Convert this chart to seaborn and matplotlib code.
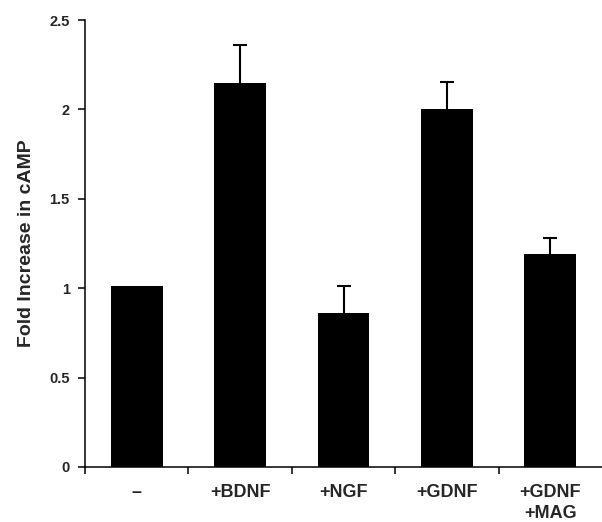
import numpy as np
import matplotlib
matplotlib.use("Agg")
import matplotlib.pyplot as plt
from matplotlib.ticker import FixedLocator, FuncFormatter
import seaborn as sns

# values
conditions = ["\u2013", "+BDNF", "+NGF", "+GDNF", "+GDNF\n+MAG"]
fold_increase = [1.01, 2.15, 0.86, 2.0, 1.19]
sem_upper = [0.0, 0.21, 0.155, 0.155, 0.09]
y_ticks = [0, 0.5, 1, 1.5, 2, 2.5]

sns.set_style("ticks")
plt.rcParams["font.family"] = ["Liberation Sans", "DejaVu Sans"]
plt.rcParams["font.weight"] = "bold"

fig = plt.figure(figsize=(6.02, 5.22), dpi=100)
ax = fig.add_axes([85 / 602, 1 - 467 / 522, 1 - 85 / 602, (467 - 20) / 522])

sns.barplot(x=conditions, y=fold_increase, color="black", saturation=1,
            width=0.5, edgecolor="black", linewidth=0, ax=ax)

# only upward error bars, and none where the error is zero
xpos = np.arange(len(conditions))
err = np.array(sem_upper)
vals = np.array(fold_increase)
has_err = err > 0
_, caps, _ = ax.errorbar(x=xpos[has_err], y=vals[has_err],
                         yerr=[np.zeros(has_err.sum()), err[has_err]],
                         fmt="none", ecolor="black", elinewidth=1.5,
                         capsize=4.7, capthick=1.5, zorder=1)
caps[0].set_visible(False)

ax.set_xlim(-0.5, len(conditions) - 0.5)
ax.set_ylim(0, 2.5)
ax.set_yticks(y_ticks)
ax.yaxis.set_major_formatter(FuncFormatter(lambda v, p: "%g" % v))

# x ticks sit between categories, labels have no tick
ax.xaxis.set_minor_locator(FixedLocator(np.arange(-0.5, len(conditions) - 1, 1.0)))
ax.tick_params(axis="x", which="major", length=0, pad=12, labelsize=13)
ax.tick_params(axis="x", which="minor", length=5, width=1.1, direction="out",
               color="black")
ax.tick_params(axis="y", length=5, width=1.1, direction="out", pad=6,
               labelsize=10.5, color="black")
for lab in ax.get_xticklabels() + ax.get_yticklabels():
    lab.set_fontweight("bold")
    lab.set_linespacing(1.3)

ax.set_ylabel("Fold Increase in cAMP", fontsize=14, fontweight="bold",
              labelpad=10)
ax.set_xlabel("")

sns.despine(ax=ax)
for s in ["left", "bottom"]:
    ax.spines[s].set_linewidth(1.1)
    ax.spines[s].set_color("black")

fig.savefig("out.png", dpi=100)
